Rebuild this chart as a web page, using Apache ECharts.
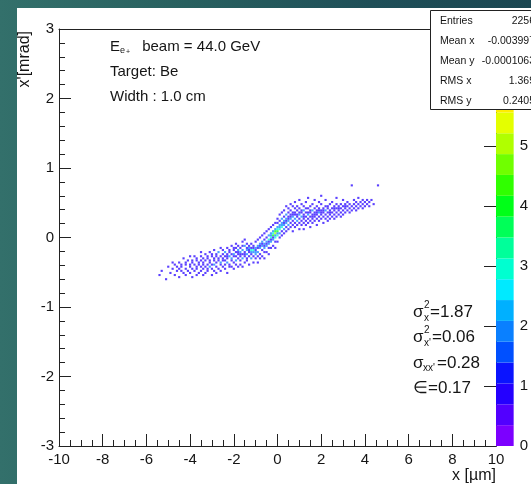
<!DOCTYPE html>
<html>
<head>
<meta charset="utf-8">
<script src="https://cdn.jsdelivr.net/npm/echarts/dist/echarts.min.js"></script>
<style>
  html, body { margin: 0; padding: 0; }
  body {
    width: 531px; height: 484px; overflow: hidden; position: relative;
    background: linear-gradient(90deg, #33706b 0%, #28605f 35%, #1f4f58 70%, #1b4752 100%);
  }
  #panel { position: absolute; left: 17px; top: 8px; width: 514px; height: 476px; background: #fff; }
  #chart { position: absolute; left: 0; top: 0; width: 531px; height: 484px; }
</style>
</head>
<body>
<div id="panel"></div>
<div id="chart"></div>
<script>
// Phase-space histogram x' vs x for a 44 GeV e+ beam on a 1 cm Be target.
// Bins are 0.1 um wide in x and 0.03 mrad tall in x'. Entries: [x, x', count].

const binWidth = 0.1;
const binHeight = 0.03;

const tailPoints = [
  [-5.4,-0.54,1],[-5.3,-0.48,1],[-5.1,-0.60,1],[-5.0,-0.42,1],[-4.9,-0.51,1],
  [-4.8,-0.36,1],[-4.8,-0.45,1],[-4.7,-0.54,1],[-4.7,-0.39,1],[-4.6,-0.42,1],[-4.6,-0.48,1]
];

const lowerArm = [
  [-4.5,-0.45,1],[-4.5,-0.36,1],[-4.5,-0.57,1],
  [-4.4,-0.39,1],[-4.4,-0.48,1],[-4.4,-0.42,1],
  [-4.3,-0.51,1],[-4.3,-0.30,1],
  [-4.2,-0.36,1],[-4.2,-0.45,1],[-4.2,-0.54,1],[-4.2,-0.39,1],
  [-4.1,-0.33,1],[-4.1,-0.48,1],
  [-4.0,-0.39,1],[-4.0,-0.27,1],[-4.0,-0.51,1],[-4.0,-0.42,1],
  [-3.9,-0.45,1],[-3.9,-0.33,1],[-3.9,-0.57,1],[-3.9,-0.36,1],
  [-3.8,-0.48,1],[-3.8,-0.39,1],[-3.8,-0.27,1],
  [-3.7,-0.45,1],[-3.7,-0.30,1],[-3.7,-0.54,1],[-3.7,-0.42,1],[-3.7,-0.33,1],
  [-3.6,-0.36,1],[-3.6,-0.39,1],[-3.6,-0.51,1],
  [-3.5,-0.42,1],[-3.5,-0.27,1],[-3.5,-0.48,1],[-3.5,-0.21,1],[-3.5,-0.33,1],
  [-3.4,-0.30,1],[-3.4,-0.45,1],[-3.4,-0.39,1],[-3.4,-0.54,1],[-3.4,-0.36,1],
  [-3.3,-0.24,1],[-3.3,-0.42,1],[-3.3,-0.51,1],[-3.3,-0.33,1],
  [-3.2,-0.27,1],[-3.2,-0.39,1],[-3.2,-0.45,1],[-3.2,-0.30,1],[-3.2,-0.48,1],
  [-3.1,-0.33,1],[-3.1,-0.21,1],[-3.1,-0.42,2],[-3.1,-0.36,1],
  [-3.0,-0.24,1],[-3.0,-0.45,1],[-3.0,-0.27,1],[-3.0,-0.54,1],[-3.0,-0.39,1],
  [-2.9,-0.30,1],[-2.9,-0.39,2],[-2.9,-0.18,1],[-2.9,-0.48,1],[-2.9,-0.33,1],
  [-2.8,-0.36,1],[-2.8,-0.24,1],[-2.8,-0.42,1],[-2.8,-0.27,1],[-2.8,-0.51,1],
  [-2.7,-0.33,1],[-2.7,-0.21,2],[-2.7,-0.45,1],[-2.7,-0.30,1],
  [-2.6,-0.27,1],[-2.6,-0.39,1],[-2.6,-0.15,1],[-2.6,-0.36,2],[-2.6,-0.48,1],
  [-2.5,-0.24,1],[-2.5,-0.42,1],[-2.5,-0.30,1],[-2.5,-0.33,1],[-2.5,-0.18,1],
  [-2.4,-0.33,1],[-2.4,-0.21,2],[-2.4,-0.27,1],[-2.4,-0.45,1],[-2.4,-0.39,1],
  [-2.3,-0.30,1],[-2.3,-0.36,2],[-2.3,-0.15,1],[-2.3,-0.24,1],[-2.3,-0.51,1],[-2.3,-0.27,1],
  [-2.2,-0.27,2],[-2.2,-0.18,1],[-2.2,-0.39,1],[-2.2,-0.42,1],[-2.2,-0.21,1],
  [-2.1,-0.24,1],[-2.1,-0.30,2],[-2.1,-0.12,1],[-2.1,-0.42,1],[-2.1,-0.33,1],
  [-2.0,-0.24,2],[-2.0,-0.36,1],[-2.0,-0.18,1],[-2.0,-0.45,1],[-2.0,-0.27,1],[-2.0,-0.15,1],
  [-1.9,-0.27,1],[-1.9,-0.15,1],[-1.9,-0.33,2],[-1.9,-0.21,1],[-1.9,-0.09,1],[-1.9,-0.39,1],
  [-1.8,-0.30,1],[-1.8,-0.18,2],[-1.8,-0.24,1],[-1.8,-0.42,1],[-1.8,-0.12,1],[-1.8,-0.21,1],
  [-1.7,-0.21,2],[-1.7,-0.27,1],[-1.7,-0.33,1],[-1.7,-0.15,1],[-1.7,-0.39,1],[-1.7,-0.24,1],
  [-1.6,-0.24,1],[-1.6,-0.18,2],[-1.6,-0.30,2],[-1.6,-0.06,1],[-1.6,-0.42,1],[-1.6,-0.12,1],
  [-1.5,-0.21,1],[-1.5,-0.12,2],[-1.5,-0.27,1],[-1.5,-0.36,1],[-1.5,-0.24,1],[-1.5,-0.03,1],
  [-1.4,-0.18,2],[-1.4,-0.24,2],[-1.4,-0.09,1],[-1.4,-0.33,1],[-1.4,-0.15,1],[-1.4,-0.30,1],
  [-1.3,-0.21,1],[-1.3,-0.15,2],[-1.3,-0.27,1],[-1.3,-0.39,1],[-1.3,-0.12,1],[-1.3,-0.18,1],
  [-1.2,-0.18,3],[-1.2,-0.24,1],[-1.2,-0.09,1],[-1.2,-0.30,2],[-1.2,-0.15,1],[-1.2,-0.21,2],
  [-1.1,-0.21,2],[-1.1,-0.12,1],[-1.1,-0.27,1],[-1.1,-0.18,3],[-1.1,-0.36,1],[-1.1,-0.15,1],
  [-1.0,-0.15,2],[-1.0,-0.24,2],[-1.0,-0.06,1],[-1.0,-0.30,1],[-1.0,-0.18,1],[-1.0,-0.21,2]
];

const corePoints = [
  [-0.9,-0.12,2],[-0.9,-0.21,2],[-0.9,-0.03,1],[-0.9,-0.27,1],[-0.9,-0.36,1],[-0.9,-0.15,1],
  [-0.8,-0.15,2],[-0.8,-0.09,2],[-0.8,-0.24,1],[-0.8,-0.30,1],[-0.8,0.00,1],[-0.8,-0.12,1],
  [-0.7,-0.12,2],[-0.7,-0.18,1],[-0.7,-0.06,2],[-0.7,-0.27,1],[-0.7,0.03,1],[-0.7,-0.09,1],
  [-0.6,-0.09,2],[-0.6,-0.15,2],[-0.6,-0.03,1],[-0.6,-0.21,1],[-0.6,0.06,1],[-0.6,-0.30,1],[-0.6,-0.12,1],
  [-0.5,-0.06,2],[-0.5,-0.12,2],[-0.5,0.00,1],[-0.5,-0.21,1],[-0.5,0.09,1],[-0.5,-0.09,1],
  [-0.4,-0.03,3],[-0.4,-0.09,2],[-0.4,0.03,2],[-0.4,-0.15,1],[-0.4,0.12,1],[-0.4,-0.24,1],[-0.4,-0.06,1],
  [-0.3,0.00,3],[-0.3,-0.06,2],[-0.3,0.06,2],[-0.3,-0.15,1],[-0.3,0.15,1],[-0.3,0.03,2],[-0.3,-0.03,1],
  [-0.2,0.03,4],[-0.2,0.09,2],[-0.2,-0.03,2],[-0.2,-0.12,1],[-0.2,0.18,1],[-0.2,0.06,3],[-0.2,0.00,1],
  [-0.1,0.06,5],[-0.1,0.12,2],[-0.1,0.00,3],[-0.1,-0.06,1],[-0.1,0.21,1],[-0.1,-0.15,1],[-0.1,0.09,4],[-0.1,0.03,2],
  [0.0,0.09,4],[0.0,0.15,2],[0.0,0.03,3],[0.0,0.21,1],[0.0,-0.06,1],[0.0,0.27,1],[0.0,0.12,3],[0.0,0.06,2],
  [0.1,0.12,3],[0.1,0.18,2],[0.1,0.06,2],[0.1,0.24,1],[0.1,0.00,1],[0.1,0.33,1],[0.1,0.15,2],
  [0.2,0.15,3],[0.2,0.21,2],[0.2,0.09,1],[0.2,0.27,2],[0.2,0.36,1],[0.2,0.03,1],[0.2,0.18,2],
  [0.3,0.18,2],[0.3,0.24,2],[0.3,0.12,2],[0.3,0.30,1],[0.3,0.39,1],[0.3,0.06,1],[0.3,0.21,1],
  [0.4,0.21,2],[0.4,0.27,2],[0.4,0.15,1],[0.4,0.33,2],[0.4,0.09,1],[0.4,0.45,1],[0.4,0.24,1],
  [0.5,0.24,2],[0.5,0.30,1],[0.5,0.18,2],[0.5,0.36,1],[0.5,0.12,1],[0.5,0.42,1],[0.5,0.27,1]
];

const upperArm = [
  [0.6,0.27,2],[0.6,0.21,1],[0.6,0.33,1],[0.6,0.39,1],[0.6,0.15,1],[0.6,0.48,1],[0.6,0.30,1],
  [0.7,0.24,1],[0.7,0.30,2],[0.7,0.36,1],[0.7,0.18,1],[0.7,0.45,1],[0.7,0.09,1],[0.7,0.33,1],
  [0.8,0.27,2],[0.8,0.33,1],[0.8,0.21,1],[0.8,0.42,1],[0.8,0.51,1],[0.8,0.15,1],[0.8,0.36,1],
  [0.9,0.30,1],[0.9,0.24,2],[0.9,0.39,1],[0.9,0.18,1],[0.9,0.45,1],[0.9,0.33,1],
  [1.0,0.27,1],[1.0,0.33,2],[1.0,0.21,1],[1.0,0.42,1],[1.0,0.12,1],[1.0,0.54,1],[1.0,0.36,1],
  [1.1,0.30,2],[1.1,0.24,1],[1.1,0.36,1],[1.1,0.48,1],[1.1,0.18,1],[1.1,0.39,1],
  [1.2,0.27,1],[1.2,0.33,1],[1.2,0.39,2],[1.2,0.21,1],[1.2,0.45,1],[1.2,0.12,1],[1.2,0.30,1],
  [1.3,0.30,1],[1.3,0.24,1],[1.3,0.36,1],[1.3,0.51,1],[1.3,0.18,1],[1.3,0.42,1],
  [1.4,0.33,2],[1.4,0.27,1],[1.4,0.42,1],[1.4,0.21,1],[1.4,0.57,1],[1.4,0.36,1],
  [1.5,0.30,1],[1.5,0.36,1],[1.5,0.24,1],[1.5,0.45,1],[1.5,0.15,1],[1.5,0.39,1],
  [1.6,0.33,1],[1.6,0.27,1],[1.6,0.39,2],[1.6,0.48,1],[1.6,0.21,1],[1.6,0.30,1],
  [1.7,0.30,1],[1.7,0.36,1],[1.7,0.42,1],[1.7,0.24,1],[1.7,0.54,1],[1.7,0.33,1],
  [1.8,0.33,1],[1.8,0.27,1],[1.8,0.45,1],[1.8,0.39,1],[1.8,0.18,1],[1.8,0.36,1],
  [1.9,0.36,2],[1.9,0.30,1],[1.9,0.42,1],[1.9,0.24,1],[1.9,0.51,1],[1.9,0.39,1],
  [2.0,0.33,1],[2.0,0.39,1],[2.0,0.27,1],[2.0,0.48,1],[2.0,0.60,1],[2.0,0.36,1],
  [2.1,0.36,1],[2.1,0.30,1],[2.1,0.42,1],[2.1,0.21,1],[2.1,0.39,1],
  [2.2,0.33,1],[2.2,0.39,2],[2.2,0.45,1],[2.2,0.27,1],[2.2,0.54,1],
  [2.3,0.36,1],[2.3,0.30,1],[2.3,0.42,1],[2.3,0.24,1],[2.3,0.45,1],
  [2.4,0.39,1],[2.4,0.33,1],[2.4,0.48,1],[2.4,0.27,1],[2.4,0.36,1],
  [2.5,0.36,1],[2.5,0.42,1],[2.5,0.30,1],[2.5,0.51,1],
  [2.6,0.39,1],[2.6,0.33,1],[2.6,0.45,1],[2.6,0.27,1],[2.6,0.42,1],
  [2.7,0.36,1],[2.7,0.42,1],[2.7,0.48,1],[2.7,0.30,1],[2.7,0.57,1],
  [2.8,0.39,1],[2.8,0.33,1],[2.8,0.45,1],[2.8,0.42,1],
  [2.9,0.42,1],[2.9,0.36,1],[2.9,0.48,1],[2.9,0.30,1],
  [3.0,0.39,1],[3.0,0.45,1],[3.0,0.33,1],[3.0,0.54,1],
  [3.1,0.42,1],[3.1,0.36,1],[3.1,0.48,1],[3.1,0.45,1],
  [3.2,0.45,1],[3.2,0.39,1],[3.2,0.51,1],
  [3.3,0.42,1],[3.3,0.36,1],[3.3,0.48,1],
  [3.4,0.45,1],[3.4,0.39,1],[3.4,0.75,1],
  [3.5,0.42,1],[3.5,0.48,1],[3.5,0.54,1],
  [3.6,0.45,1],[3.6,0.39,1],[3.6,0.51,1],
  [3.7,0.48,1],[3.7,0.42,1],[3.7,0.57,1],
  [3.8,0.45,1],[3.8,0.51,1],
  [3.9,0.48,1],[3.9,0.42,1],[3.9,0.54,1],
  [4.0,0.51,1],[4.0,0.45,1],
  [4.1,0.48,1],[4.1,0.54,1],
  [4.2,0.51,1],[4.2,0.45,1],
  [4.3,0.54,1],[4.4,0.48,1],[4.6,0.75,1]
];

const histBins = [].concat(tailPoints, lowerArm, corePoints, upperArm);

// Colour scale (z axis) and statistics
const zMax = 6.95;
const zLevels = 20;
const palette = [
  '#7c00ff','#5200ff','#2400ff','#0a14ff','#0050ff','#0a80ff','#00b0ff','#00eaff',
  '#00ffd0','#00ff9a','#00ff58','#00ff18','#30ff00','#70ff00','#b0ff00','#e4ff00',
  '#ffee00','#ffb400','#ff7000','#ff2a00'
];
const levelIndex = Array.from({ length: zLevels }, (_, i) => i);

const statsRows = [
  ['Entries', '2256'],
  ['Mean x', '-0.003997'],
  ['Mean y', '-0.0001063'],
  ['RMS x', '1.369'],
  ['RMS y', '0.2405']
];

const beamLines = { energy: '44.0 GeV', target: 'Be', width: '1.0 cm' };
const emittance = { sxx: '1.87', spp: '0.06', sxp: '0.28', eps: '0.17' };

function colorFor(n) {
  const step = zMax / zLevels;
  return palette[Math.min(zLevels - 1, Math.floor(n / step))];
}

const FONT = '"Liberation Sans", Arial, Helvetica, sans-serif';
const INK = '#151515';

const chart = echarts.init(document.getElementById('chart'), null, { renderer: 'canvas' });

function txt(x, y, text, size, extra) {
  return {
    type: 'text', x: x, y: y, z: 50,
    style: Object.assign({
      text: text, font: size + 'px ' + FONT, fill: INK,
      textAlign: 'left', textVerticalAlign: 'middle'
    }, extra || {})
  };
}

const statsGraphics = [
  { type: 'rect', z: 60, shape: { x: 430.5, y: 10.5, width: 120, height: 99 },
    style: { fill: '#fff', stroke: '#222', lineWidth: 1 } }
];
statsRows.forEach((r, i) => {
  const y = 21 + i * 20;
  statsGraphics.push({ type: 'text', z: 61, x: 440, y: y,
    style: { text: r[0], font: '10.5px ' + FONT, fill: INK, textVerticalAlign: 'middle' } });
  statsGraphics.push({ type: 'text', z: 61, x: 535, y: y,
    style: { text: r[1], font: '10.5px ' + FONT, fill: INK, textAlign: 'right', textVerticalAlign: 'middle' } });
});

const labelGraphics = [
  txt(110, 47, 'E', 15),
  txt(120, 51, 'e', 9),
  txt(126, 52, '+', 7),
  txt(138, 47, ' beam = ' + beamLines.energy, 15),
  txt(110, 72, 'Target: ' + beamLines.target, 15),
  txt(110, 97, 'Width : ' + beamLines.width, 15),

  txt(413, 312, 'σ', 17),
  txt(424, 305, '2', 10),
  txt(424, 318, 'x', 10),
  txt(430, 312, '=' + emittance.sxx, 17),

  txt(413, 337, 'σ', 17),
  txt(424, 330, '2', 10),
  txt(424, 343, "x'", 10),
  txt(432, 337, '=' + emittance.spp, 17),

  txt(413, 363, 'σ', 17),
  txt(423, 368, "xx'", 10),
  txt(437, 363, '=' + emittance.sxp, 17),

  txt(413, 388, '∈=' + emittance.eps, 17),

  // axis titles
  { type: 'text', x: 25, y: 31, rotation: Math.PI / 2, z: 50,
    style: { text: "x'[mrad]", font: '16px ' + FONT, fill: INK, textAlign: 'right', textVerticalAlign: 'middle' } },
  txt(496, 476, 'x [µm]', 16, { textAlign: 'right' })
];

const axisLineStyle = { color: '#222', width: 1 };
const tickLabel = { color: INK, fontSize: 15, fontFamily: FONT };

chart.setOption({
  backgroundColor: 'transparent',
  animation: false,
  grid: [
    { left: 59, top: 29, width: 437, height: 417 },
    { left: 496, top: 29, width: 27, height: 417 }
  ],
  xAxis: [
    { gridIndex: 0, type: 'value', min: -10, max: 10, interval: 2,
      axisLine: { onZero: false, lineStyle: axisLineStyle },
      axisTick: { inside: true, length: 12, lineStyle: axisLineStyle },
      minorTick: { show: true, splitNumber: 4, length: 6, lineStyle: axisLineStyle },
      axisLabel: Object.assign({ margin: 6 }, tickLabel),
      splitLine: { show: false } },
    { gridIndex: 0, type: 'value', position: 'top', min: -10, max: 10,
      axisLine: { onZero: false, lineStyle: axisLineStyle },
      axisTick: { show: false }, axisLabel: { show: false }, splitLine: { show: false } },
    { gridIndex: 1, type: 'value', min: 0, max: 1, show: false }
  ],
  yAxis: [
    { gridIndex: 0, type: 'value', min: -3, max: 3, interval: 1,
      axisLine: { onZero: false, lineStyle: axisLineStyle },
      axisTick: { inside: true, length: 12, lineStyle: axisLineStyle },
      minorTick: { show: true, splitNumber: 5, length: 6, lineStyle: axisLineStyle },
      axisLabel: Object.assign({ margin: 5 }, tickLabel),
      splitLine: { show: false } },
    { gridIndex: 1, type: 'value', position: 'right', min: 0, max: zMax, interval: 1,
      axisLine: { show: true, lineStyle: axisLineStyle },
      axisTick: { inside: true, length: 12, lineStyle: axisLineStyle },
      axisLabel: Object.assign({ margin: 6, showMaxLabel: false }, tickLabel),
      splitLine: { show: false } },
    { gridIndex: 1, type: 'value', position: 'left', min: 0, max: zMax,
      axisLine: { show: true, lineStyle: axisLineStyle },
      axisTick: { show: false }, axisLabel: { show: false }, splitLine: { show: false } }
  ],
  series: [
    {
      type: 'custom', xAxisIndex: 0, yAxisIndex: 0, clip: true,
      data: histBins,
      renderItem: function (params, api) {
        const x = api.value(0), y = api.value(1), n = api.value(2);
        const p0 = api.coord([x - binWidth / 2, y + binHeight / 2]);
        const p1 = api.coord([x + binWidth / 2, y - binHeight / 2]);
        return { type: 'rect',
          shape: { x: p0[0], y: p0[1], width: p1[0] - p0[0], height: p1[1] - p0[1] },
          style: { fill: colorFor(n), opacity: 0.75 } };
      }
    },
    {
      type: 'custom', xAxisIndex: 2, yAxisIndex: 1,
      data: levelIndex,
      renderItem: function (params, api) {
        const i = api.value(0);
        const step = zMax / zLevels;
        const p0 = api.coord([0, (i + 1) * step]);
        const p1 = api.coord([1, i * step]);
        return { type: 'rect',
          shape: { x: p0[0], y: p0[1], width: p1[0] - p0[0], height: p1[1] - p0[1] },
          style: { fill: palette[i] } };
      }
    }
  ],
  graphic: labelGraphics.concat(statsGraphics)
});
</script>
</body>
</html>
